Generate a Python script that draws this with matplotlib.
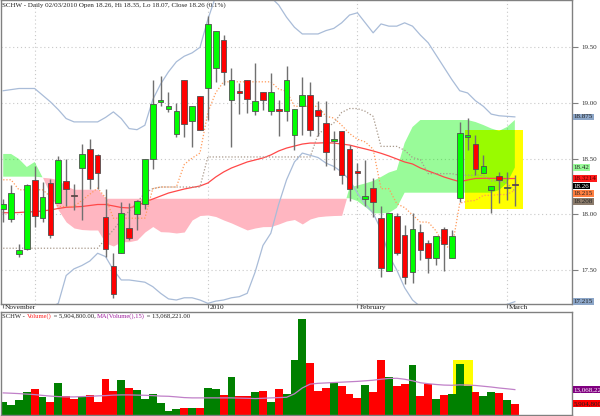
import numpy as np
import matplotlib
matplotlib.use('Agg')
import matplotlib.pyplot as plt
import matplotlib.transforms as mtransforms
from matplotlib.patches import Rectangle

plt.rcParams['font.family'] = ['Liberation Serif', 'DejaVu Serif']

# SCHW daily bars, 24 Nov 2009 .. 2 Mar 2010
opens = [18.045, 17.96, 17.645, 17.685, 18.31, 17.965, 18.28, 18.10, 18.30, 18.17,
         18.42, 18.59, 18.53, 17.975, 17.535, 17.655, 17.875, 18.00, 18.09, 18.495,
         19.01, 18.945, 18.72, 19.21, 18.84, 19.06, 19.13, 19.31, 19.57, 19.03,
         19.11, 19.21, 18.93, 19.10, 18.93, 18.95, 18.93, 18.71, 18.97, 19.07,
         18.94, 18.82, 18.66, 18.75, 18.59, 18.385, 18.14, 18.24, 17.97, 17.49,
         17.985, 17.81, 17.48, 17.845, 17.745, 17.61, 17.87, 17.605, 18.145, 18.69,
         18.63, 18.37, 18.22, 18.34, 18.235, 18.26]
highs = [18.14, 18.26, 17.73, 18.27, 18.43, 18.29, 18.32, 18.52, 18.50, 18.27,
         18.63, 18.68, 18.54, 18.23, 17.65, 18.11, 18.10, 18.13, 18.50, 19.21,
         19.24, 19.10, 19.00, 19.21, 18.97, 19.06, 19.78, 19.65, 19.61, 19.31,
         19.18, 19.21, 19.36, 19.10, 19.27, 19.03, 19.33, 18.945, 19.23, 19.19,
         19.02, 19.02, 18.75, 18.75, 18.62, 18.46, 18.49, 18.33, 18.07, 18.01,
         18.01, 17.90, 18.01, 17.91, 17.77, 17.805, 17.89, 17.86, 18.83, 18.865,
         18.71, 18.53, 18.25, 18.38, 18.38, 18.35]
lows = [17.93, 17.93, 17.62, 17.68, 17.89, 17.93, 17.79, 18.10, 18.07, 18.04,
        17.95, 18.225, 18.225, 17.62, 17.25, 17.655, 17.77, 17.86, 18.05, 18.405,
        18.975, 18.92, 18.69, 18.69, 18.60, 18.76, 18.85, 19.19, 19.16, 18.60,
        18.90, 18.91, 18.89, 18.94, 18.89, 18.70, 18.84, 18.58, 18.71, 18.70,
        18.70, 18.43, 18.40, 18.27, 18.12, 18.24, 18.07, 17.98, 17.44, 17.49,
        17.63, 17.37, 17.385, 17.59, 17.475, 17.545, 17.49, 17.605, 18.11, 18.58,
        18.355, 18.37, 18.015, 18.10, 18.13, 18.07]
closes = [18.09, 18.195, 17.675, 18.26, 17.985, 18.155, 17.81, 18.49, 18.225, 18.16,
          18.54, 18.315, 18.37, 17.685, 17.28, 18.01, 17.79, 18.12, 18.495, 18.99,
          19.025, 18.97, 18.93, 18.81, 18.97, 18.76, 19.71, 19.65, 19.28, 19.21,
          19.09, 19.04, 19.02, 19.03, 19.10, 18.93, 19.21, 18.945, 19.07, 18.76,
          18.885, 18.56, 18.68, 18.355, 18.225, 18.375, 18.165, 18.11, 17.52, 18.01,
          17.655, 17.44, 17.865, 17.68, 17.605, 17.805, 17.73, 17.805, 18.73, 18.71,
          18.41, 18.43, 18.25, 18.31, 18.245, 18.26]

# volume in millions of shares and its 15 day average
volumes = [6.91, 5.22, 7.58, 12.03, 13.57, 9.47, 6.76, 16.28, 9.63, 8.45,
           9.32, 10.50, 6.76, 18.69, 12.54, 18.02, 14.08, 13.06, 8.45, 10.85,
           6.40, 2.30, 3.33, 3.84, 3.48, 3.84, 14.08, 13.57, 10.34, 19.56,
           9.83, 9.83, 11.67, 12.54, 6.76, 13.57, 11.01, 28.42, 49.41, 26.88,
           12.39, 13.93, 16.64, 14.95, 10.85, 8.81, 15.62, 12.03, 28.42, 19.71,
           14.95, 16.13, 25.86, 9.83, 16.13, 8.29, 10.34, 11.01, 26.01, 15.10,
           12.03, 9.83, 11.67, 11.16, 7.94, 5.9048]
vol_ma = [11.37, 11.21, 11.01, 10.75, 10.50, 10.09, 9.73, 9.47, 9.32, 9.32,
          9.47, 9.63, 9.83, 9.98, 10.24, 10.34, 10.34, 10.24, 10.14, 9.98,
          9.73, 9.63, 9.32, 8.96, 8.81, 8.81, 8.81, 8.81, 8.81, 8.81,
          8.70, 8.60, 8.45, 8.60, 8.81, 8.96, 9.11, 10.9, 13.9, 15.9,
          16.3, 16.5, 16.7, 16.9, 17.1, 17.3, 17.6, 17.9, 18.4, 18.8,
          18.9, 18.4, 17.6, 16.6, 16.1, 15.7, 15.4, 15.3, 15.5, 15.4,
          15.2, 14.8, 14.4, 13.9, 13.5, 13.068221]

# overlays
bb_upper = [19.11, 19.12, 19.13, 19.13, 19.13, 19.07, 19.01, 18.94, 18.86, 18.83,
            18.83, 18.83, 18.83, 18.87, 18.92, 18.86, 18.77, 18.76, 18.80, 19.03,
            19.17, 19.28, 19.37, 19.42, 19.45, 19.50, 19.75, 19.96, 20.05, 20.08,
            20.08, 20.08, 20.05, 20.00, 19.95, 19.88, 19.77, 19.68, 19.62, 19.62,
            19.62, 19.65, 19.67, 19.72, 19.79, 19.81, 19.72, 19.63, 19.71, 19.69,
            19.69, 19.72, 19.69, 19.61, 19.54, 19.43, 19.32, 19.21, 19.11, 19.09,
            19.02, 18.97, 18.90, 18.885, 18.88, 18.875]
bb_lower = [17.00, 17.02, 17.04, 17.07, 17.10, 17.13, 17.16, 17.20, 17.45, 17.51,
            17.54, 17.58, 17.65, 17.62, 17.50, 17.41, 17.41, 17.40, 17.39, 17.35,
            17.29, 17.24, 17.23, 17.25, 17.25, 17.23, 17.20, 17.22, 17.23, 17.25,
            17.26, 17.29, 17.48, 17.72, 17.83, 18.09, 18.31, 18.47, 18.55, 18.53,
            18.51, 18.46, 18.43, 18.38, 18.31, 18.19, 18.09, 18.01, 17.86, 17.63,
            17.50, 17.34, 17.23, 17.17, 17.15, 17.14, 17.14, 17.15, 17.16, 17.17,
            17.17, 17.18, 17.18, 17.18, 17.19, 17.215]
ma_red = [18.014, 18.014, 18.016, 18.021, 18.023, 18.030, 18.039, 18.052, 18.063, 18.066,
          18.070, 18.079, 18.088, 18.088, 18.075, 18.061, 18.057, 18.075, 18.110, 18.137,
          18.164, 18.191, 18.209, 18.227, 18.241, 18.254, 18.281, 18.335, 18.380, 18.416,
          18.443, 18.470, 18.488, 18.506, 18.533, 18.569, 18.595, 18.613, 18.631, 18.640,
          18.640, 18.643, 18.640, 18.631, 18.622, 18.604, 18.587, 18.569, 18.548, 18.524,
          18.497, 18.470, 18.452, 18.416, 18.389, 18.363, 18.335, 18.313, 18.293, 18.308,
          18.322, 18.323, 18.323, 18.322, 18.321, 18.3214]
tenkan = [18.31, 18.31, 18.22, 18.22, 18.22, 18.22, 18.16, 18.07, 18.07, 18.07,
          18.125, 18.18, 18.235, 18.15, 17.965, 17.965, 17.965, 17.965, 17.965, 18.23,
          18.245, 18.245, 18.245, 18.4475, 18.505, 18.55, 18.915, 19.0925, 19.19, 19.19,
          19.19, 19.19, 19.19, 19.19, 19.19, 19.125, 19.105, 18.97, 18.97, 18.97,
          18.97, 18.88, 18.865, 18.80, 18.725, 18.675, 18.65, 18.585, 18.23, 18.23,
          18.095, 18.06, 17.995, 17.93, 17.93, 17.85, 17.72, 17.69, 18.10, 18.1175,
          18.125, 18.17, 18.17, 18.1775, 18.1775, 18.215]
kijun = [17.695] * 13 + [17.78, 17.86, 17.95, 18.03, 18.11, 18.19, 18.23,
         18.245, 18.245, 18.245, 18.245, 18.245, 18.245] + [18.515] * 14 + \
        [18.7175, 18.775, 18.82, 18.915, 18.95, 18.95, 18.925, 18.88, 18.61, 18.61,
         18.61, 18.575, 18.51, 18.49, 18.365, 18.365, 18.365, 18.365, 18.35, 18.35,
         18.35, 18.35, 18.30, 18.30, 18.28, 18.208]
span_a = [18.542, 18.542, 18.497, 18.425, 18.470, 18.332, 18.173, 18.039, 17.931, 17.877,
          17.863, 17.859, 17.859, 17.742, 17.715, 17.754, 17.754, 17.769, 17.841, 17.890,
          17.844, 17.841, 17.832, 17.841, 17.949, 17.989, 17.994, 17.980, 17.949, 17.922,
          17.890, 17.859, 17.877, 17.889, 17.890, 17.913, 17.940, 17.953, 17.913, 17.958,
          17.978, 17.985, 17.989, 17.991, 18.241, 18.259, 18.277, 18.299, 18.335, 18.375,
          18.398, 18.640, 18.784, 18.847, 18.847, 18.847, 18.847, 18.847, 18.847, 18.847,
          18.829, 18.802, 18.771, 18.749, 18.784, 18.847]
span_b = [18.338] * 5 + [18.332, 18.326, 18.308, 18.254, 18.225, 18.225, 18.225, 18.225] + \
         [18.144] * 32 + [18.119, 18.066, 18.009, 18.009, 18.012, 18.057] + \
         [18.194] * 12 + [18.218, 18.281, 18.42]

month_ticks = [0, 26, 45, 64]
month_names = ['November', '2010', 'February', 'March']
month_grid = [4, 26, 45, 64]
price_ticks = [17.5, 18.0, 18.5, 19.0, 19.5]

x = np.arange(len(closes))
o, h, l, c = map(np.array, (opens, highs, lows, closes))
up = c > o

fig = plt.figure(figsize=(6, 4.16), dpi=100)
ax = fig.add_axes([0.001, 0.2692, 0.9523, 0.7308])
axv = fig.add_axes([0.001, 0.0024, 0.9523, 0.2476])

xlim = (-0.33, 72.26)
ax.set_xlim(*xlim)
ax.set_ylim(17.194, 19.925)
axv.set_xlim(*xlim)
axv.set_ylim(0, 53.0)

# grid
for p in price_ticks:
    ax.axhline(p, color='#c8c8c8', lw=0.8, ls=(0, (1, 2.5)), zorder=0.5)
for g in month_grid:
    ax.axvline(g, color='#c8c8c8', lw=0.8, ls=(0, (1, 2.5)), zorder=0.5)

# highlighted area
ax.add_patch(Rectangle((58.68, 18.045), 66.04 - 58.68, 18.757 - 18.045,
                       color='#ffff00', lw=0, zorder=0.8))
axv.add_patch(Rectangle((57.16, 0), 59.70 - 57.16, 28.4,
                        color='#ffff00', lw=0, zorder=0.8))

# ichimoku cloud
sa, sb = np.array(span_a), np.array(span_b)
ax.fill_between(x, sa, sb, where=sa >= sb, interpolate=True,
                color=(0, 0.96, 0), alpha=0.4, lw=0, zorder=1)
ax.fill_between(x, sa, sb, where=sa < sb, interpolate=True,
                color='#ffb6c1', lw=0, zorder=1)

# lines
ax.plot(x, bb_upper, color='#a9bcd8', lw=0.9, zorder=2)
ax.plot(x, bb_lower, color='#a9bcd8', lw=0.9, zorder=2)
ax.plot(x, ma_red, color='#ff4848', lw=0.9, zorder=2)
ax.plot(x, tenkan, color='#ff9a5a', lw=0.9, ls=(0, (1, 1.5)), zorder=2)
ax.plot(x, kijun, color='#a8988a', lw=0.9, ls=(0, (1, 1.5)), zorder=2)

# candles
ax.vlines(x, l, h, color='#707070', lw=1.0, zorder=3)
body = np.maximum(np.abs(c - o), 0.012)
ax.bar(x, body, bottom=np.minimum(o, c), width=0.72,
       color=np.where(up, '#00ff00', '#ff0000'), edgecolor='#505050',
       linewidth=0.6, zorder=4)

# volume
axv.bar(x, volumes, width=1.0, color=np.where(up, '#008000', '#ff0000'),
        linewidth=0, zorder=2)
axv.plot(x, vol_ma, color='#c080c8', lw=0.9, zorder=3)

for a in (ax, axv):
    for s in a.spines.values():
        s.set_color('#808080')
        s.set_linewidth(1.0)

ax.yaxis.tick_right()
ax.set_yticks(price_ticks)
ax.set_yticklabels([f'{p:.2f}' for p in price_ticks])
ax.tick_params(axis='y', labelsize=5.0, colors='#808080', labelcolor='#303030',
               length=4, width=0.8, pad=2.5)
ax.set_xticks(month_ticks)
ax.set_xticklabels([])
ax.tick_params(axis='x', length=3, width=0.8, colors='#808080', direction='out')
axv.set_xticks([])
axv.set_yticks([])

trans = mtransforms.blended_transform_factory(ax.transData, ax.transAxes)
for t, name in zip(month_ticks, month_names):
    ax.text(t + 0.25, -0.002, name, transform=trans, ha='left', va='top',
            fontsize=5.3, color='#202020')

ax.text(0.003, 0.992, 'SCHW - Daily 02/03/2010 Open 18.26, Hi 18.35, Lo 18.07, Close 18.26 (0.1%)',
        transform=ax.transAxes, ha='left', va='top', fontsize=5.0, color='#202020')

# volume caption in colored pieces
parts = [('SCHW - ', '#202020'), ('Volume()', '#ff2020'),
         (f' = {volumes[-1] * 1e6:,.2f}, ', '#202020'),
         ('MA(Volume(),15)', '#a020a0'),
         (f' = {vol_ma[-1] * 1e6:,.2f}', '#202020')]
prev = axv.text(0.003, 0.985, parts[0][0], transform=axv.transAxes, ha='left',
                va='top', fontsize=4.8, color=parts[0][1])
for txt, col in parts[1:]:
    prev = axv.annotate(txt, xy=(1, 0), xycoords=prev, ha='left', va='bottom',
                        fontsize=4.8, color=col)

# last value boxes
def value_box(axis, y, label, fc, tc, ytrans):
    axis.text(1.003, y, label, transform=ytrans, ha='left', va='center',
              fontsize=5.0, color=tc, clip_on=False,
              bbox=dict(boxstyle='square,pad=0.12', fc=fc, ec='none'))

ptrans = mtransforms.blended_transform_factory(ax.transAxes, ax.transData)
value_box(ax, bb_upper[-1], f'{bb_upper[-1]:g}', '#8ca6c8', '#202020', ptrans)
value_box(ax, bb_lower[-1], f'{bb_lower[-1]:g}', '#8ca6c8', '#202020', ptrans)

stack = [(span_b[-1], '#98fb98', '#202020'), (ma_red[-1], '#ff1a1a', '#500000'),
         (closes[-1], '#000000', '#ffffff'), (tenkan[-1], '#ff7f40', '#202020'),
         (kijun[-1], '#8b7b6b', '#202020')]
stack.sort(key=lambda s: -s[0])
pos = None
for v, fc, tc in stack:
    pos = v if pos is None else min(v, pos - 0.068)
    value_box(ax, pos, f'{v:g}', fc, tc, ptrans)

vtrans = mtransforms.blended_transform_factory(axv.transAxes, axv.transData)
value_box(axv, vol_ma[-1], f'{vol_ma[-1] * 1e6:,.0f}', '#800080', '#ffffff', vtrans)
value_box(axv, volumes[-1], f'{volumes[-1] * 1e6:,.0f}', '#ff0000', '#202020', vtrans)

fig.savefig('out.png', dpi=100)
